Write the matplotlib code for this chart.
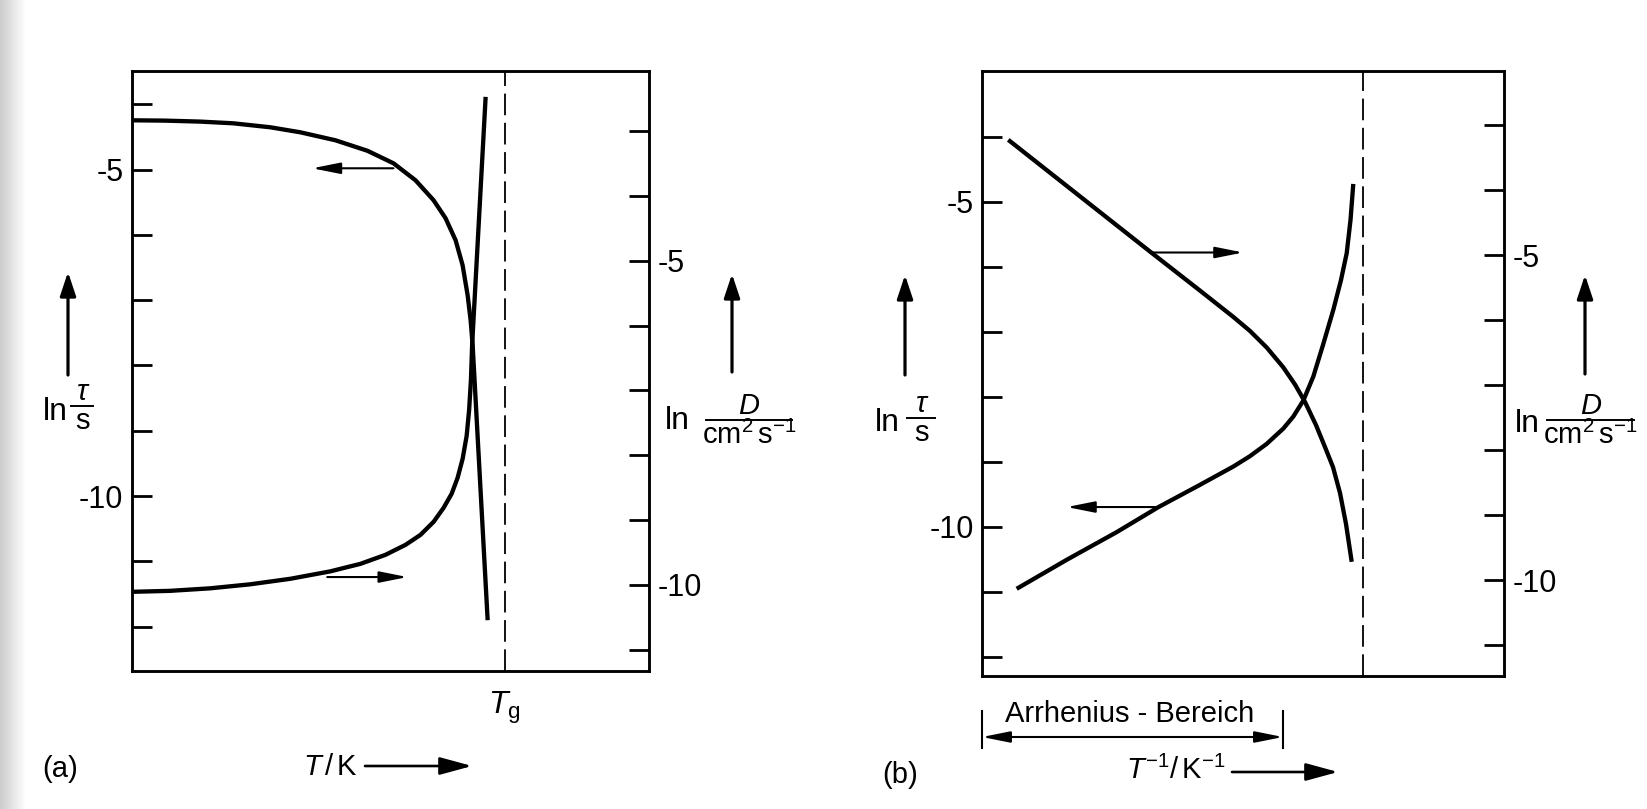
import numpy as np
import matplotlib
matplotlib.use("Agg")
import matplotlib.pyplot as plt
from matplotlib import font_manager as fm
from matplotlib.patches import FancyArrowPatch
from matplotlib.lines import Line2D

# ---------------- data ----------------
# Panel (a): x = temperature T (arbitrary units, 0..100 across the frame)
tau_a_T = [0.0, 6.39, 13.23, 19.6, 26.79, 32.6, 39.38, 45.57, 50.61, 54.87,
           58.36, 60.68, 62.62, 63.97, 64.94, 65.52, 65.91, 68.81]
tau_a_ln = [-4.245, -4.250, -4.265, -4.291, -4.352, -4.429, -4.551, -4.712,
            -4.904, -5.164, -5.470, -5.746, -6.083, -6.466, -6.925, -7.308,
            -7.691, -11.902]
D_a_T = [0.0, 7.42, 15.17, 22.91, 30.66, 38.41, 44.22, 49.06, 52.94, 55.84,
         58.36, 60.29, 61.84, 63.00, 63.97, 64.75, 65.23, 65.58, 65.81, 68.42]
D_a_ln = [-10.108, -10.093, -10.054, -9.992, -9.907, -9.792, -9.676, -9.537,
          -9.383, -9.228, -9.028, -8.812, -8.596, -8.349, -8.056, -7.701,
          -7.299, -6.836, -6.296, -2.469]
Tg_a = 72.1

# Panel (b): x = inverse temperature 1/T (arbitrary units, 0..100)
tau_b_invT = [6.59, 16.18, 25.76, 33.74, 41.73, 48.11, 51.31, 54.51, 57.70,
              59.61, 61.53, 63.45, 65.31, 67.28, 68.76, 69.85, 70.58, 71.11]
tau_b_ln = [-10.958, -10.512, -10.086, -9.702, -9.358, -9.077, -8.917, -8.728,
            -8.492, -8.308, -8.062, -7.692, -7.205, -6.666, -6.205, -5.794,
            -5.282, -4.728]
D_b_invT = [4.98, 32.15, 41.73, 48.05, 51.31, 54.51, 57.64, 59.94, 61.86,
            63.96, 65.69, 67.22, 68.57, 69.72, 70.81]
D_b_ln = [-3.228, -4.946, -5.546, -5.946, -6.166, -6.420, -6.720, -6.989,
          -7.258, -7.612, -7.951, -8.258, -8.658, -9.135, -9.715]
Tg_b = 72.9

# axis ticks / labels
ticks_tau = [-4, -5, -6, -7, -8, -9, -10, -11, -12]
ticks_D = [-3, -4, -5, -6, -7, -8, -9, -10, -11]
tick_text = {-5: "-5", -10: "-10"}

# small pointer arrows (x_tail, x_head, level) telling which axis a curve uses
ptr_tau_a = (50.6, 34.9, -4.98)
ptr_D_a = (37.8, 53.3, -9.88)
ptr_tau_b = (33.7, 16.2, -9.70)
ptr_D_b = (32.15, 50.0, -4.96)

# ---------------- fonts ----------------
names = {f.name for f in fm.fontManager.ttflist}
FONT = "DejaVu Sans"
for cand in ("Liberation Sans Narrow", "Liberation Sans", "Arimo"):
    if cand in names:
        FONT = cand
        break
plt.rcParams["font.family"] = [FONT, "DejaVu Sans"]
plt.rcParams["mathtext.fontset"] = "custom"
plt.rcParams["mathtext.rm"] = FONT
plt.rcParams["mathtext.it"] = FONT + ":italic"
plt.rcParams["mathtext.bf"] = FONT + ":bold"
plt.rcParams["mathtext.sf"] = FONT

W, H = 1647, 809
fig = plt.figure(figsize=(W / 100, H / 100), dpi=100)
fig.patch.set_facecolor("white")


def fx(px):
    return px / W


def fy(py):
    return 1 - py / H


# scanned-page shadow on the left edge
strip = fig.add_axes([0, 0, 26 / W, 1])
grad = np.linspace(0.80, 1.0, 64)[None, :]
strip.imshow(grad, cmap="gray", vmin=0, vmax=1, aspect="auto", extent=[0, 1, 0, 1])
strip.set_axis_off()

LW_CURVE = 3.1
LW_FRAME = 1.8
TICK_FS = 22


def make_panel(box, ylim_l, ylim_r):
    l, t, r, b = box
    ax = fig.add_axes([fx(l), fy(b), fx(r) - fx(l), fy(t) - fy(b)])
    ax.set_xlim(0, 100)
    ax.set_ylim(*ylim_l)
    ax.set_xticks([])
    axr = ax.twinx()
    axr.set_ylim(*ylim_r)
    for a in (ax, axr):
        for s in a.spines.values():
            s.set_linewidth(LW_FRAME)
            s.set_color("black")
    ax.set_yticks(ticks_tau)
    ax.set_yticklabels([tick_text.get(v, "") for v in ticks_tau])
    axr.set_yticks(ticks_D)
    axr.set_yticklabels([tick_text.get(v, "") for v in ticks_D])
    for a in (ax, axr):
        a.tick_params(axis="y", direction="in", length=14.5, width=2.0,
                      labelsize=TICK_FS, pad=6)
    return ax, axr


def pointer(a, spec):
    x0, x1, y = spec
    a.annotate("", xy=(x1, y), xytext=(x0, y),
               arrowprops=dict(arrowstyle="-|>,head_length=0.85,head_width=0.17",
                               color="black", lw=1.5, mutation_scale=20,
                               shrinkA=0, shrinkB=0))


dash = (0, (12, 4.2))
curve_kw = dict(color="black", lw=LW_CURVE, solid_joinstyle="round",
                solid_capstyle="butt")

# ---------- panel (a) ----------
ax_a, axr_a = make_panel((131.7, 71, 649, 671), (-12.68, -3.49), (-11.33, -2.07))
ax_a.plot(tau_a_T, tau_a_ln, **curve_kw)
axr_a.plot(D_a_T, D_a_ln, **curve_kw)
ax_a.axvline(Tg_a, color="black", lw=1.3, linestyle=dash)
pointer(ax_a, ptr_tau_a)
pointer(axr_a, ptr_D_a)

# ---------- panel (b) ----------
ax_b, axr_b = make_panel((982.3, 71, 1504, 676), (-12.30, -2.99), (-11.47, -2.17))
ax_b.plot(tau_b_invT, tau_b_ln, **curve_kw)
axr_b.plot(D_b_invT, D_b_ln, **curve_kw)
ax_b.axvline(Tg_b, color="black", lw=1.3, linestyle=dash)
pointer(ax_b, ptr_tau_b)
pointer(axr_b, ptr_D_b)


# ---------- figure-level labels and arrows ----------
def farrow(p0, p1, lw=2.3, hl=0.9, hw=0.3, ms=16, style="-|>"):
    a = FancyArrowPatch((fx(p0[0]), fy(p0[1])), (fx(p1[0]), fy(p1[1])),
                        transform=fig.transFigure,
                        arrowstyle=f"{style},head_length={hl},head_width={hw}",
                        mutation_scale=ms, lw=lw, color="black",
                        shrinkA=0, shrinkB=0)
    fig.add_artist(a)


def fline(p0, p1, lw=1.4):
    fig.add_artist(Line2D([fx(p0[0]), fx(p1[0])], [fy(p0[1]), fy(p1[1])],
                          transform=fig.transFigure, color="black", lw=lw))


def ftext(px, py, s, size=20, **kw):
    fig.text(fx(px), fy(py), s, ha=kw.pop("ha", "center"), va=kw.pop("va", "center"),
             fontsize=size, **kw)


def frac_label(ln_xy, num, den, bar_x0, bar_x1, bar_y, gap=14, num_style="italic"):
    ftext(ln_xy[0], ln_xy[1], "ln", size=23)
    cx = 0.5 * (bar_x0 + bar_x1)
    ftext(cx, bar_y - gap, num, size=21, style=num_style)
    fline((bar_x0, bar_y), (bar_x1, bar_y), lw=1.4)
    ftext(cx, bar_y + gap + 1, den, size=21)


# vertical axis arrows
farrow((68, 375), (68, 272))
farrow((732, 372), (732, 274))
farrow((905, 375), (905, 275))
farrow((1585, 374), (1585, 275))

# axis titles: ln(tau/s) and ln(D/(cm^2 s^-1))
frac_label((55, 412), "\u03c4", "s", 71, 93, 406)
frac_label((677, 421), "D", r"$\mathrm{cm^2\,s^{-1}}$", 706, 792, 420)
frac_label((887, 423), "\u03c4", "s", 907, 935, 418)
frac_label((1527, 424), "D", r"$\mathrm{cm^2\,s^{-1}}$", 1547, 1634, 420)

# T_g mark
ftext(504, 708, r"$T_{\mathrm{g}}$", size=23)

# bottom captions
ftext(60, 769, "(a)", size=21)
ftext(358, 767, r"$T\,/\,\mathrm{K}$", size=21, ha="right")
farrow((365, 766), (472, 766), lw=1.9, hl=1.1, hw=0.3, ms=18)

ftext(900, 775, "(b)", size=21)
ftext(1226, 770, r"$T^{-1}/\,\mathrm{K}^{-1}$", size=21, ha="right")
farrow((1232, 772), (1338, 772), lw=1.9, hl=1.1, hw=0.3, ms=18)

ftext(1130, 714, "Arrhenius - Bereich", size=21)
farrow((982, 737), (1283, 737), lw=1.5, hl=0.85, hw=0.17, ms=20, style="<|-|>")
for bx in (982, 1283):
    fline((bx, 711), (bx, 748), lw=1.5)

fig.savefig("out.png", dpi=100, facecolor="white")
